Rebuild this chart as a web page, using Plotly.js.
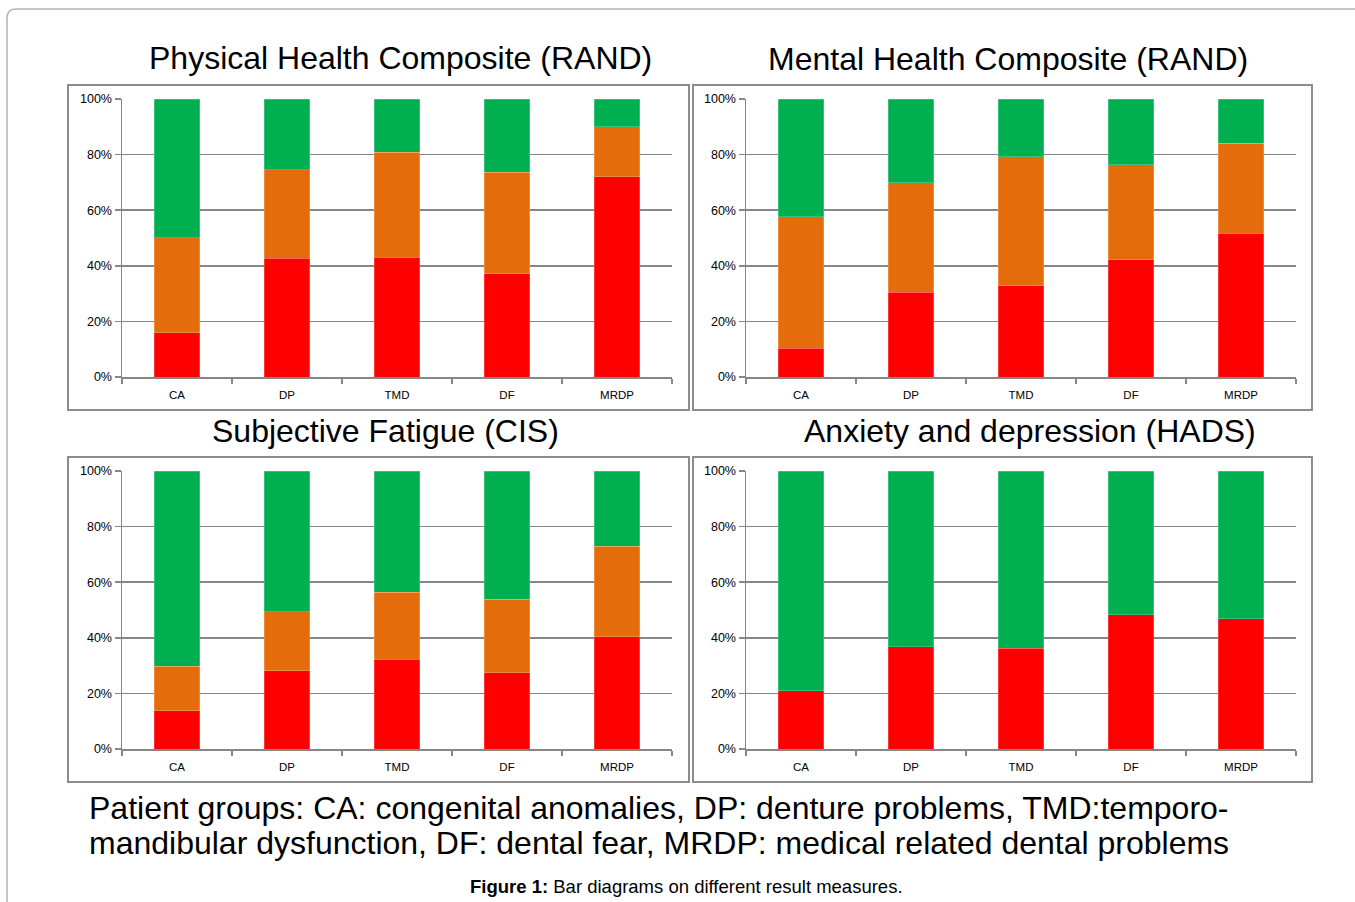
<!DOCTYPE html>
<html>
<head>
<meta charset="utf-8">
<script src="https://cdn.plot.ly/plotly-3.0.1.min.js"></script>
<style>
html,body{margin:0;padding:0;background:#fff;}
#chart{width:1355px;height:902px;}
</style>
</head>
<body>
<div id="chart"></div>
<script>
// ---- data ----
const categories = ["CA", "DP", "TMD", "DF", "MRDP"];
const yTickVals = [0, 20, 40, 60, 80, 100];
const yTickText = ["0%", "20%", "40%", "60%", "80%", "100%"];

const panelTitles = [
  "Physical Health Composite (RAND)",
  "Mental Health Composite (RAND)",
  "Subjective Fatigue (CIS)",
  "Anxiety and depression (HADS)"
];

// Physical Health Composite (RAND)
const physRed    = [15.9, 42.8, 43.1, 37.1, 72.0];
const physOrange = [34.2, 31.8, 37.7, 36.6, 18.0];
const physGreen  = [49.9, 25.4, 19.2, 26.3, 10.0];

// Mental Health Composite (RAND)
const mentRed    = [10.3, 30.5, 32.9, 42.1, 51.8];
const mentOrange = [47.4, 39.3, 46.4, 34.3, 32.3];
const mentGreen  = [42.3, 30.2, 20.7, 23.6, 15.9];

// Subjective Fatigue (CIS)
const fatRed    = [13.8, 28.1, 32.3, 27.4, 40.4];
const fatOrange = [16.0, 21.2, 24.1, 26.4, 32.6];
const fatGreen  = [70.2, 50.7, 43.6, 46.2, 27.0];

// Anxiety and depression (HADS)
const hadsRed   = [21.0, 36.8, 36.2, 48.3, 46.9];
const hadsGreen = [79.0, 63.2, 63.8, 51.7, 53.1];

const captionLine1 = "Patient groups: CA: congenital anomalies, DP: denture problems, TMD:temporo-";
const captionLine2 = "mandibular dysfunction, DF: dental fear, MRDP: medical related dental problems";
const figureCaption = "<b>Figure 1:</b> Bar diagrams on different result measures.";

// ---- styles ----
const RED = "#FF0000", ORANGE = "#E46C0A", GREEN = "#00B050";
const FONT = "Liberation Sans, Arial, sans-serif";
const W = 1355, H = 902;
const px = v => v / W;
const py = v => 1 - v / H;

// plot areas in pixels [x0,x1,yTop,yBottom]
const areas = [
  [122, 672, 99, 377],
  [746, 1296, 99, 377],
  [122, 672, 471, 749],
  [746, 1296, 471, 749]
];
// panel boxes
const boxes = [
  [68, 689, 85, 410],
  [693, 1312, 85, 410],
  [68, 689, 457, 782],
  [693, 1312, 457, 782]
];
const titlePos = [[400, 58], [1008, 59], [385, 431], [1030, 431]];

const panelSeries = [
  [physRed, physOrange, physGreen],
  [mentRed, mentOrange, mentGreen],
  [fatRed, fatOrange, fatGreen],
  [hadsRed, null, hadsGreen]
];

const traces = [];
const layout = {
  width: W, height: H,
  margin: {l: 0, r: 0, t: 0, b: 0},
  paper_bgcolor: "#fff",
  plot_bgcolor: "rgba(0,0,0,0)",
  barmode: "stack",
  bargap: 0.59,
  showlegend: false,
  font: {family: FONT, color: "#000"},
  shapes: [],
  annotations: []
};

panelSeries.forEach((ser, i) => {
  const n = i + 1;
  const xa = n === 1 ? "x" : "x" + n;
  const ya = n === 1 ? "y" : "y" + n;
  const colors = [RED, ORANGE, GREEN];
  ser.forEach((vals, k) => {
    if (!vals) return;
    traces.push({
      type: "bar", x: categories, y: vals,
      xaxis: xa, yaxis: ya,
      marker: {color: colors[k], line: {color: "rgba(255,255,255,0.35)", width: 0.6}},
      hoverinfo: "y"
    });
  });
  const a = areas[i];
  layout[n === 1 ? "xaxis" : "xaxis" + n] = {
    domain: [px(a[0]), px(a[1])],
    anchor: ya,
    type: "category",
    showgrid: false,
    showline: true, linecolor: "#868686", linewidth: 1.5,
    ticks: "outside", tickson: "boundaries", ticklen: 5, tickcolor: "#868686", tickwidth: 1.5,
    ticklabelstandoff: 7,
    tickfont: {size: 11.5, family: FONT, color: "#000"},
    zeroline: false, fixedrange: true
  };
  layout[n === 1 ? "yaxis" : "yaxis" + n] = {
    domain: [py(a[3]), py(a[2])],
    anchor: xa,
    range: [0, 100],
    tickvals: yTickVals, ticktext: yTickText,
    showgrid: true, gridcolor: "#868686", gridwidth: 1.5,
    showline: true, linecolor: "#868686", linewidth: 1.5,
    ticks: "outside", ticklen: 6, tickcolor: "#868686", tickwidth: 1.5,
    tickfont: {size: 12.5, family: FONT, color: "#000"},
    zeroline: false, fixedrange: true
  };
  const b = boxes[i];
  layout.shapes.push({
    type: "rect", xref: "paper", yref: "paper",
    x0: px(b[0]), x1: px(b[1]), y0: py(b[3]), y1: py(b[2]),
    line: {color: "#8c8c8c", width: 2}, fillcolor: "rgba(0,0,0,0)"
  });
  layout.annotations.push({
    xref: "paper", yref: "paper",
    x: px(titlePos[i][0]), y: py(titlePos[i][1]),
    xanchor: "center", yanchor: "middle",
    text: panelTitles[i], showarrow: false,
    font: {size: 32, family: FONT, color: "#000"}
  });
});

// outer frame (rounded top-left corner)
const r = 9;
layout.shapes.push({
  type: "path", xref: "paper", yref: "paper",
  path: `M ${px(7)} ${py(910)} L ${px(7)} ${py(9 + r)} Q ${px(7)} ${py(9)} ${px(7 + r)} ${py(9)} L ${px(1360)} ${py(9)}`,
  line: {color: "#b4b4b4", width: 1.5}
});

layout.annotations.push({
  xref: "paper", yref: "paper", x: px(87), y: py(808),
  xanchor: "left", yanchor: "middle", showarrow: false,
  text: captionLine1,
  font: {size: 32, family: FONT, color: "#000"}
});
layout.annotations.push({
  xref: "paper", yref: "paper", x: px(87), y: py(843),
  xanchor: "left", yanchor: "middle", showarrow: false,
  text: captionLine2,
  font: {size: 32, family: FONT, color: "#000"}
});
layout.annotations.push({
  xref: "paper", yref: "paper", x: px(686), y: py(886),
  xanchor: "center", yanchor: "middle", showarrow: false,
  text: figureCaption,
  font: {size: 18.5, family: FONT, color: "#000"}
});

Plotly.newPlot("chart", traces, layout, {displayModeBar: false, staticPlot: true});
</script>
</body>
</html>
